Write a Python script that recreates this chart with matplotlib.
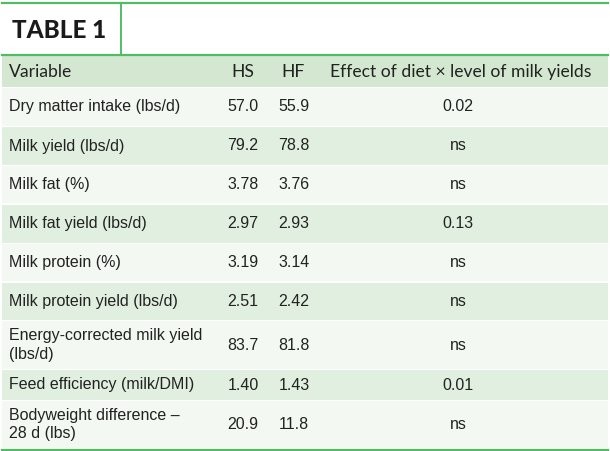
import matplotlib.pyplot as plt
from matplotlib.patches import Rectangle
from matplotlib import font_manager

variables = ['Dry matter intake (lbs/d)', 'Milk yield (lbs/d)', 'Milk fat (%)',
             'Milk fat yield (lbs/d)', 'Milk protein (%)', 'Milk protein yield (lbs/d)',
             'Energy-corrected milk yield\n(lbs/d)', 'Feed efficiency (milk/DMI)',
             'Bodyweight difference \u2013\n28 d (lbs)']
hs = ['57.0', '79.2', '3.78', '2.97', '3.19', '2.51', '83.7', '1.40', '20.9']
hf = ['55.9', '78.8', '3.76', '2.93', '3.14', '2.42', '81.8', '1.43', '11.8']
effect = ['0.02', 'ns', 'ns', '0.13', 'ns', 'ns', 'ns', '0.01', 'ns']
headers = ['Variable', 'HS', 'HF', 'Effect of diet \u00d7 level of milk yields']

# row edges in pixels (top of each data row, last = bottom)
row_edges = [87, 126.5, 165.5, 204, 243.5, 282, 320.5, 369.5, 400.5, 448.5]

names = {f.name for f in font_manager.fontManager.ttflist}
body_font = ['Liberation Sans Narrow', 'DejaVu Sans'] if 'Liberation Sans Narrow' in names else ['Liberation Sans', 'DejaVu Sans']
head_font = ['Lato', 'DejaVu Sans']

green = '#52bc64'
head_bg = '#d4e8d1'
dark_bg = '#e1efe0'
light_bg = '#f3f8f2'
txt = '#222222'

fig = plt.figure(figsize=(6.1, 4.51), dpi=100)
ax = fig.add_axes([0, 0, 1, 1])
ax.set_xlim(0, 610)
ax.set_ylim(451, 0)
ax.axis('off')

x0, x1 = 2, 608
# header row
ax.add_patch(Rectangle((x0, 56), x1 - x0, 31, color=head_bg, lw=0))
for i in range(len(variables)):
    top, bot = row_edges[i], row_edges[i + 1]
    c = light_bg if i % 2 == 0 else dark_bg
    ax.add_patch(Rectangle((x0, top + 0.8), x1 - x0, bot - top - 1.6, color=c, lw=0))

# green rules
ax.plot([x0, x1], [2.5, 2.5], color=green, lw=1.6)
ax.plot([x0, x1], [55, 55], color=green, lw=1.6)
ax.plot([x0, x1], [449.5, 449.5], color=green, lw=1.6)
ax.plot([121, 121], [2.5, 55], color=green, lw=1.4)

ax.text(12, 31, 'TABLE 1', fontsize=17.5, fontweight='black', family=head_font,
        color='#1a1a1a', va='center', ha='left')

hy = 72
hs_size = 12.6
ax.text(9, hy, headers[0], fontsize=hs_size, family=head_font, color=txt, va='center')
ax.text(243, hy, headers[1], fontsize=hs_size, family=head_font, color=txt, va='center', ha='center')
ax.text(293, hy, headers[2], fontsize=hs_size, family=head_font, color=txt, va='center', ha='center')
ax.text(461, hy, headers[3], fontsize=hs_size, family=head_font, color=txt, va='center', ha='center')

for i in range(len(variables)):
    y = (row_edges[i] + row_edges[i + 1]) / 2
    ax.text(9, y, variables[i], fontsize=11.5, family=body_font, color=txt,
            va='center', ha='left', linespacing=1.3)
    ax.text(243, y, hs[i], fontsize=11.5, family=body_font, color=txt, va='center', ha='center')
    ax.text(294, y, hf[i], fontsize=11.5, family=body_font, color=txt, va='center', ha='center')
    ax.text(458, y, effect[i], fontsize=11.5, family=body_font, color=txt, va='center', ha='center')

fig.savefig('out.png', dpi=100)
